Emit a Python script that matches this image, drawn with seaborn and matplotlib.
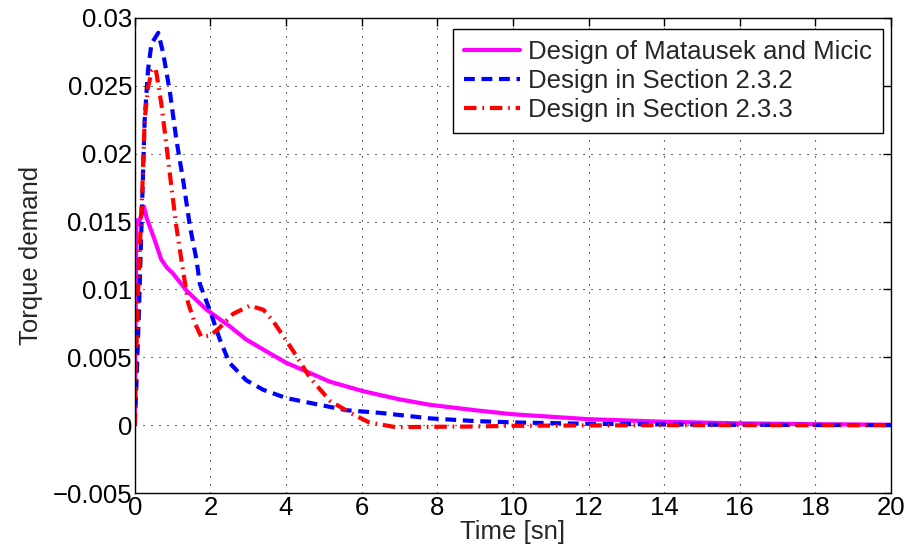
import matplotlib
matplotlib.use("Agg")
import matplotlib.pyplot as plt
import seaborn as sns

# curve values
t_mm = [0, 0.04, 0.1, 0.17, 0.24, 0.32, 0.4, 0.53, 0.7, 0.85, 1.0, 1.37, 1.9, 2.5, 2.95,
        3.5, 4.0, 4.5, 5.16, 6.04, 7.0, 7.8, 9, 10, 12, 14, 16, 18, 20]
y_mm = [0, 0.0151, 0.0148, 0.0155, 0.0161, 0.0152, 0.0146, 0.0136, 0.0122, 0.0116,
        0.0112, 0.0099, 0.0085, 0.0073, 0.0063, 0.0054, 0.0046, 0.0040, 0.0032,
        0.0025, 0.0019, 0.0015, 0.0011, 0.0008, 0.00044, 0.00025, 0.00013, 0.00007,
        0.00003]

t_232 = [0, 0.04, 0.11, 0.18, 0.22, 0.26, 0.35, 0.44, 0.62, 0.75, 0.93, 1.1, 1.28,
         1.46, 1.63, 1.72, 1.98, 2.25, 2.5, 2.95, 3.4, 4.0, 4.7, 5.6, 6.5, 7.8, 9,
         10, 12, 14, 16, 18, 20]
y_232 = [0, 0.0028, 0.0085, 0.0151, 0.0188, 0.0225, 0.0262, 0.0281, 0.0289, 0.0274,
         0.0245, 0.021, 0.018, 0.0146, 0.0122, 0.0104, 0.0085, 0.0063, 0.0046, 0.0033,
         0.0026, 0.0020, 0.0016, 0.0011, 0.0009, 0.0005, 0.0003, 0.0002, 0.0001,
         0.00005, 0.00002, 0.00001, 0]

t_233 = [0, 0.04, 0.1, 0.2, 0.26, 0.35, 0.45, 0.55, 0.7, 0.84, 0.97, 1.1, 1.23, 1.41,
         1.59, 1.76, 2.0, 2.25, 2.6, 3.04, 3.4, 3.65, 4.18, 4.63, 5.16, 5.7, 6.2, 6.9,
         8, 9, 10, 12, 14, 20]
y_233 = [0, 0.0053, 0.011, 0.0175, 0.0225, 0.0249, 0.0261, 0.0263, 0.0237, 0.0205,
         0.0175, 0.0146, 0.0122, 0.009, 0.0075, 0.0065, 0.0066, 0.0072, 0.0082, 0.0088,
         0.0085, 0.0077, 0.0055, 0.0035, 0.0018, 0.0009, 0.0002, -0.00015, -0.00012,
         -0.0001, -0.00005, -0.00002, 0, 0]

labels = ["Design of Matausek and Micic", "Design in Section 2.3.2", "Design in Section 2.3.3"]
x_ticks = list(range(0, 21, 2))
y_ticks = [-0.005, 0, 0.005, 0.01, 0.015, 0.02, 0.025, 0.03]
y_ticklabels = ["\u22120.005", "0", "0.005", "0.01", "0.015", "0.02", "0.025", "0.03"]

sns.set_style("white")
plt.rcParams['font.family'] = ['Liberation Sans', 'DejaVu Sans']
fs = 18.5

fig = plt.figure(figsize=(9.11, 5.55), dpi=100)
ax = fig.add_axes([0.148, 0.1117, 0.83, 0.856])

lw = 3.0
sns.lineplot(x=t_mm, y=y_mm, ax=ax, color="#ff00ff", lw=lw, label=labels[0],
             estimator=None)
sns.lineplot(x=t_232, y=y_232, ax=ax, color="#0000ff", lw=lw, label=labels[1],
             estimator=None)
sns.lineplot(x=t_233, y=y_233, ax=ax, color="#ff0000", lw=lw, label=labels[2],
             estimator=None)
ax.lines[1].set_dashes((2.6, 1.6))
ax.lines[2].set_dashes((3.0, 1.4, 0.4, 1.4))

ax.set_xlim(0, 20)
ax.set_ylim(-0.005, 0.03)
ax.set_xticks(x_ticks)
ax.set_yticks(y_ticks)
ax.set_yticklabels(y_ticklabels)
ax.grid(True, color="k", linestyle=(0, (1, 6.2)), linewidth=0.8)
ax.tick_params(direction="in", length=6, width=1, top=True, right=True,
               labelsize=fs, pad=2, colors="k")
for s in ax.spines.values():
    s.set_color("k")
    s.set_linewidth(1)

ax.set_xlabel("Time [sn]", fontsize=fs, labelpad=0)
ax.set_ylabel("Torque demand", fontsize=fs, labelpad=7)

leg = ax.legend(loc="upper right", bbox_to_anchor=(0.989, 0.977), fontsize=fs,
                frameon=True, fancybox=False, framealpha=1, edgecolor="k",
                handlelength=2.2, handletextpad=0.3, borderpad=0.42,
                labelspacing=0.2, borderaxespad=0)
leg.get_frame().set_linewidth(1)

plt.savefig("out.png", dpi=100)
